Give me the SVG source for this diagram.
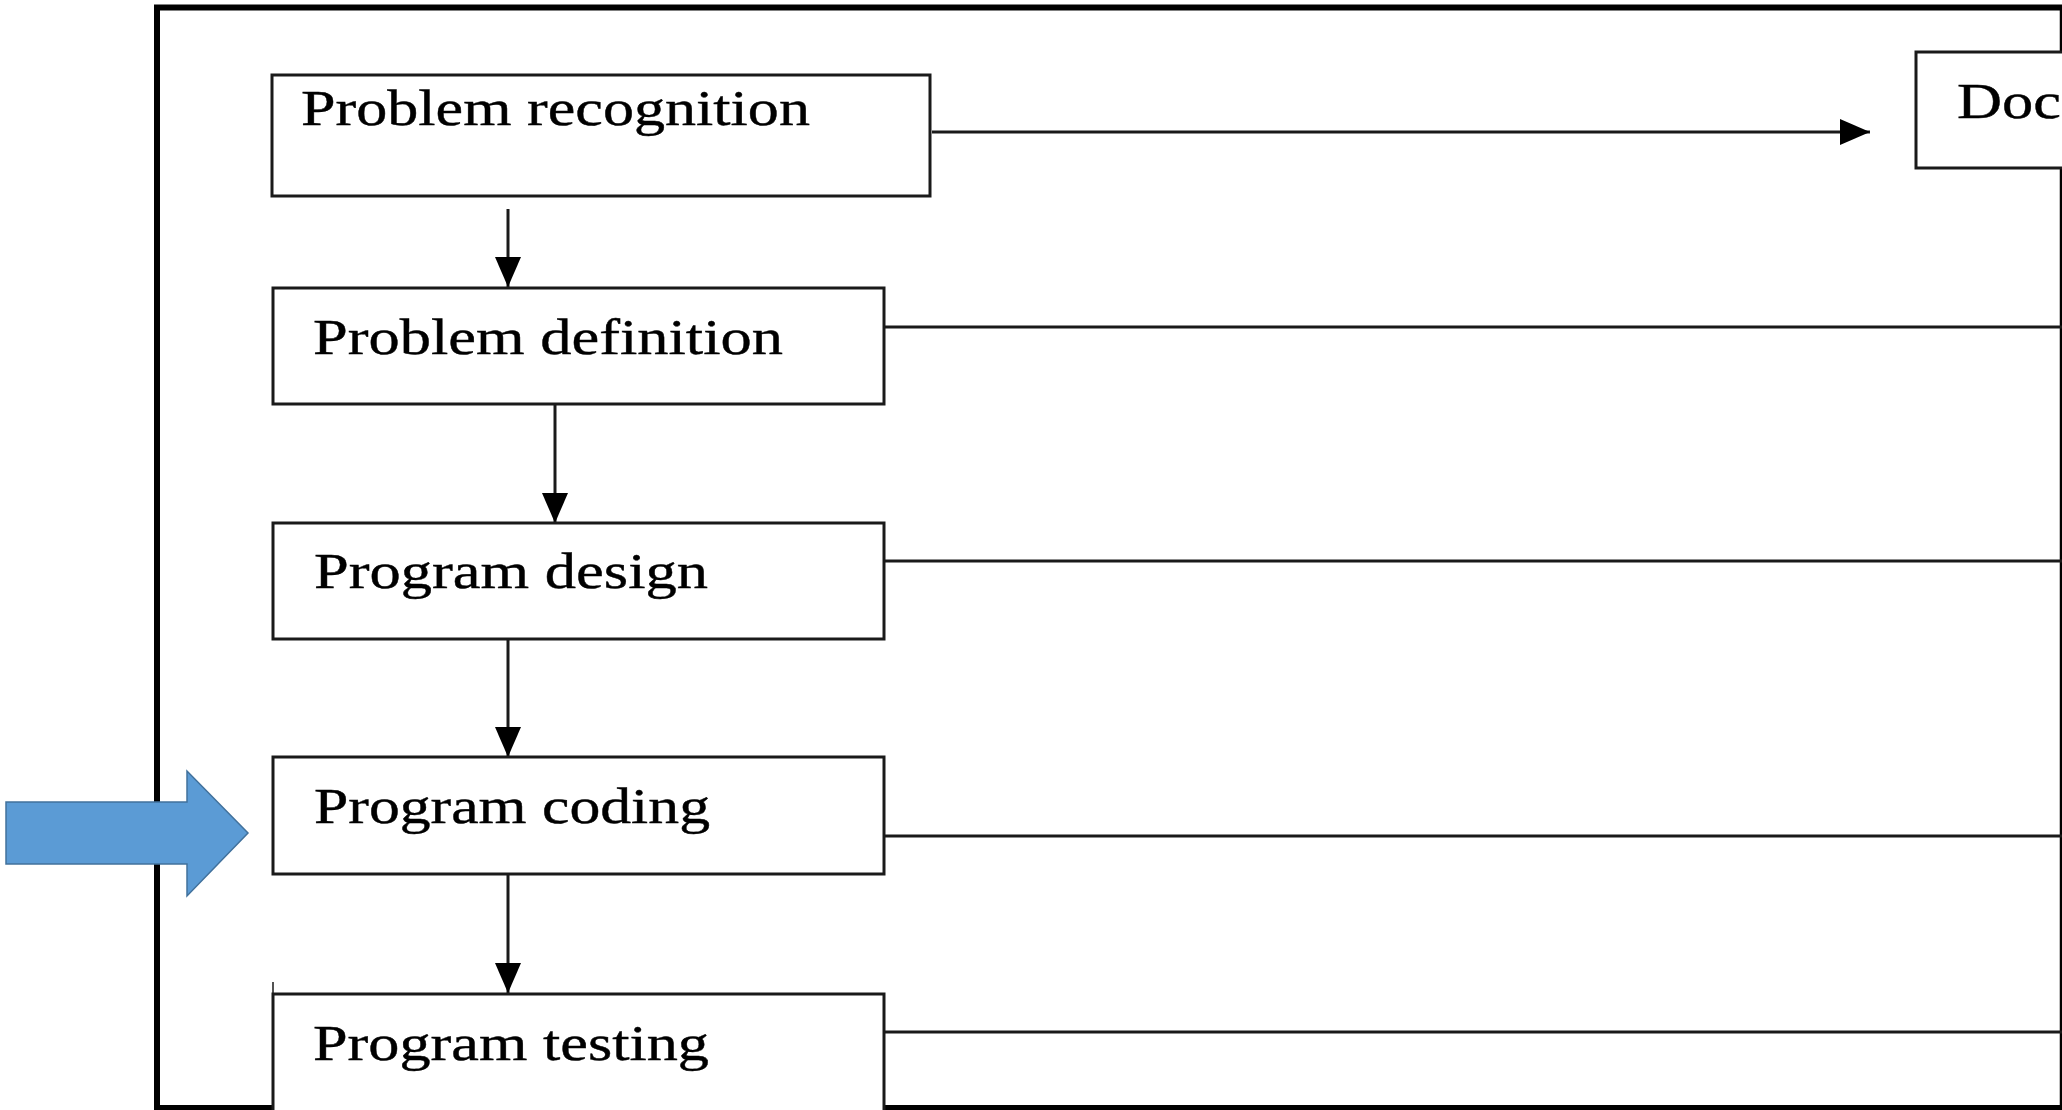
<svg xmlns="http://www.w3.org/2000/svg" width="2062" height="1110" viewBox="0 0 2062 1110">
  <defs>
    <style>
      .box { fill: #ffffff; stroke: #1a1a1a; stroke-width: 3; }
      .lbl { font-family: "Liberation Serif", "Times New Roman", serif; font-size: 50px; fill: #000000; stroke: #000000; stroke-width: 0.4; }
      .conn { stroke: #1a1a1a; stroke-width: 3; fill: none; }
      .frame { stroke: #000000; fill: none; }
    </style>
    <marker id="ah" viewBox="0 0 30 26" refX="30" refY="13" markerWidth="30" markerHeight="26" markerUnits="userSpaceOnUse" orient="auto">
      <path d="M0,0 L30,13 L0,26 Z" fill="#000000"/>
    </marker>
  </defs>
  <rect x="0" y="0" width="2062" height="1110" fill="#ffffff"/>

  <!-- outer frame -->
  <g id="frame">
    <line class="frame" x1="154" y1="7.5" x2="2062" y2="7.5" stroke-width="6"/>
    <line class="frame" x1="157" y1="5" x2="157" y2="1110" stroke-width="6"/>
    <line class="frame" x1="2061" y1="5" x2="2061" y2="1110" stroke-width="2.5"/>
    <line class="frame" x1="154" y1="1107.5" x2="2062" y2="1107.5" stroke-width="5"/>
  </g>

  <!-- connectors -->
  <g id="connectors">
    <line class="conn" x1="932" y1="132" x2="1870" y2="132" marker-end="url(#ah)"/>
    <line class="conn" x1="508" y1="209" x2="508" y2="287" marker-end="url(#ah)"/>
    <line class="conn" x1="555" y1="405" x2="555" y2="523" marker-end="url(#ah)"/>
    <line class="conn" x1="508" y1="640" x2="508" y2="757" marker-end="url(#ah)"/>
    <line class="conn" x1="508" y1="875" x2="508" y2="993" marker-end="url(#ah)"/>
    <line class="conn" x1="885" y1="327" x2="2062" y2="327"/>
    <line class="conn" x1="885" y1="561" x2="2062" y2="561"/>
    <line class="conn" x1="885" y1="836" x2="2062" y2="836"/>
    <line class="conn" x1="885" y1="1032" x2="2062" y2="1032"/>
  </g>

  <g id="node-recognition">
    <rect class="box" x="272" y="75" width="658" height="121" stroke-width="2.5"/>
    <text class="lbl" x="301" y="125" textLength="509" lengthAdjust="spacingAndGlyphs">Problem recognition</text>
  </g>

  <g id="node-definition">
    <rect class="box" x="273" y="288" width="611" height="116"/>
    <text class="lbl" x="313" y="354" textLength="470" lengthAdjust="spacingAndGlyphs">Problem definition</text>
  </g>

  <g id="node-design">
    <rect class="box" x="273" y="523" width="611" height="116"/>
    <text class="lbl" x="314" y="588" textLength="394" lengthAdjust="spacingAndGlyphs">Program design</text>
  </g>

  <g id="node-coding">
    <rect class="box" x="273" y="757" width="611" height="117"/>
    <text class="lbl" x="314" y="823" textLength="396" lengthAdjust="spacingAndGlyphs">Program coding</text>
  </g>

  <g id="node-testing">
    <path class="box" d="M273,1110 L273,994 L884,994 L884,1110"/>
    <line x1="273" y1="982" x2="273" y2="995" stroke="#1a1a1a" stroke-width="1.5"/>
    <text class="lbl" x="313" y="1060" textLength="396" lengthAdjust="spacingAndGlyphs">Program testing</text>
  </g>

  <g id="node-doc">
    <path class="box" d="M2062,52 L1916,52 L1916,168 L2062,168"/>
    <text class="lbl" x="1957" y="118" textLength="104" lengthAdjust="spacingAndGlyphs">Doc</text>
  </g>

  <g id="blue-arrow">
    <path d="M6,802 L187,802 L187,771 L248,833 L187,896 L187,864 L6,864 Z" fill="#5B9BD5" stroke="#41719C" stroke-width="1.5"/>
  </g>
</svg>
